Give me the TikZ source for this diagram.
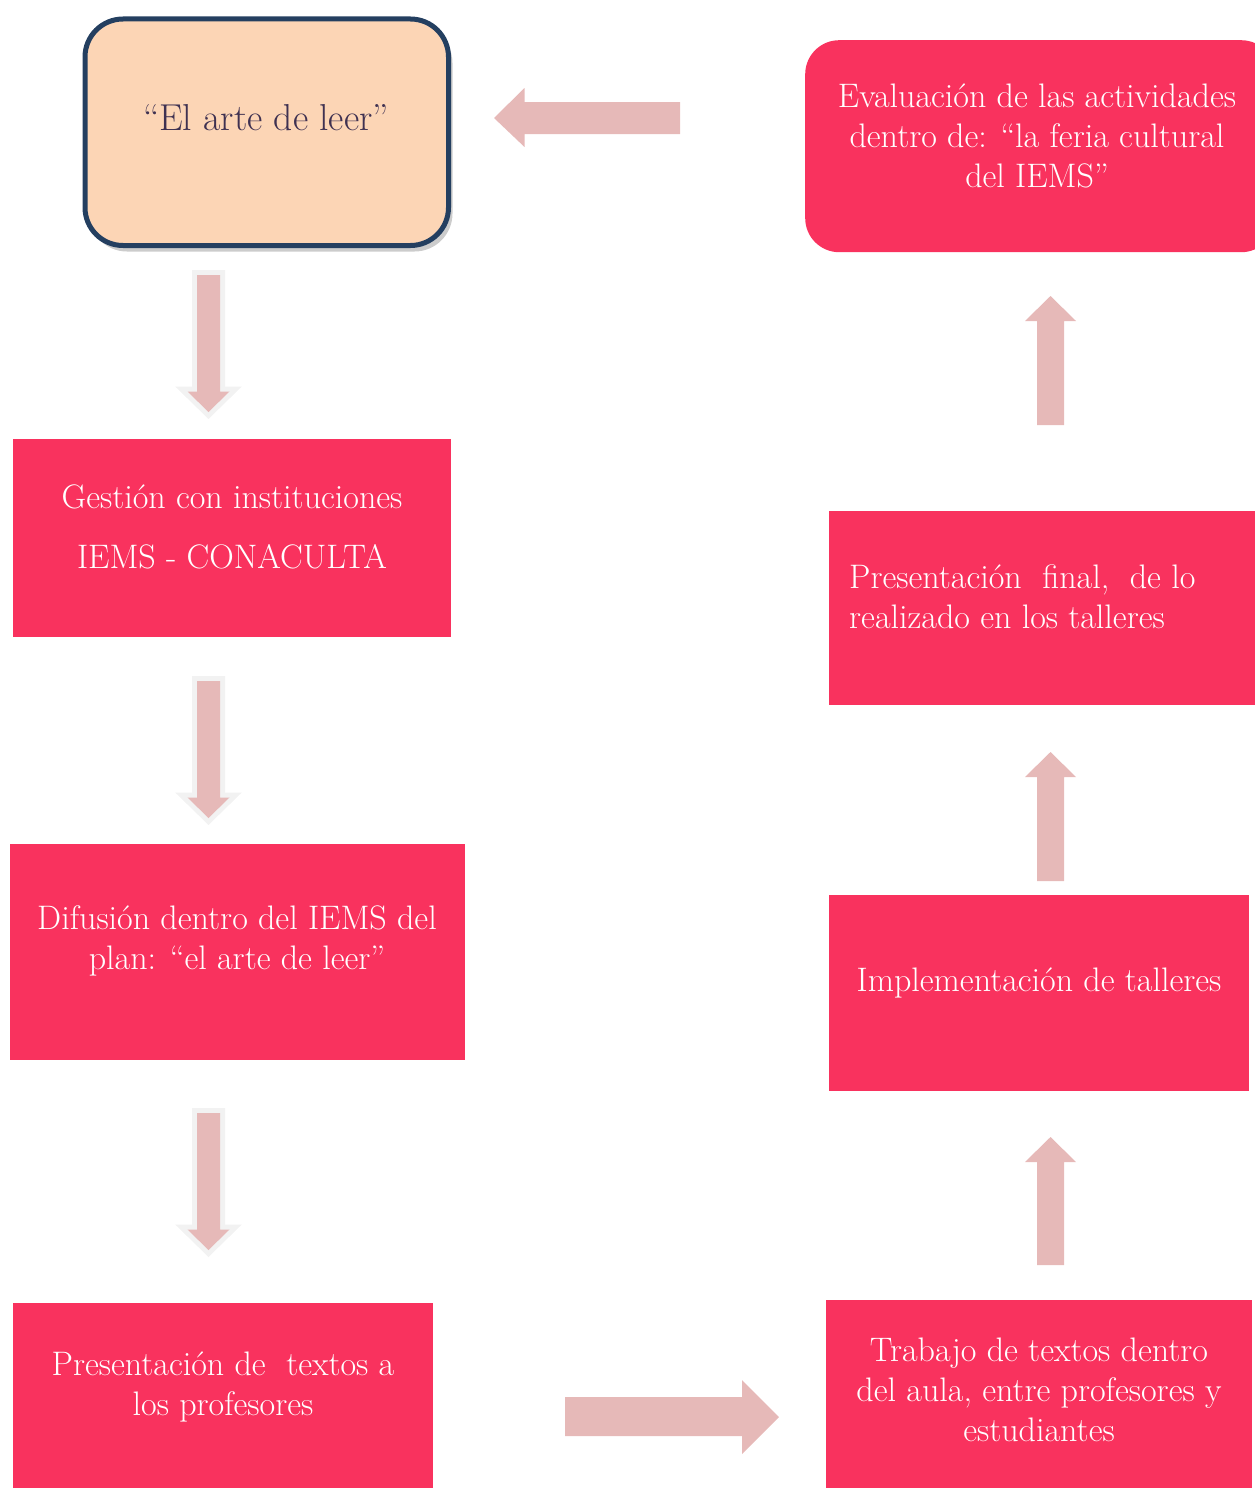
\documentclass[tikz,border=0pt]{standalone}
\usetikzlibrary{shadows}

\definecolor{boxpink}{RGB}{249,50,94}
\definecolor{arrowpink}{RGB}{230,185,184}
\definecolor{arrowline}{RGB}{242,242,242}
\definecolor{peach}{RGB}{252,213,181}
\definecolor{navy}{RGB}{36,63,96}
\definecolor{titletext}{RGB}{63,49,81}

\tikzset{
	pinkbox/.style={fill=boxpink, inner sep=0, anchor=north west},
	titlebox/.style={fill=peach, draw=navy, line width=5pt, rounded corners=38pt, inner sep=0, anchor=north west,
		drop shadow={shadow xshift=4pt, shadow yshift=-6pt, opacity=0.2, fill=black}},
	boxtext/.style={text=white, font=\fontsize{34}{40}\selectfont, align=center, inner sep=0},
	blockarrow/.style={fill=arrowpink},
	downarrow/.style={fill=arrowpink, preaction={draw=arrowline, line width=10pt, line join=miter}}
}

\begin{document}
\begin{tikzpicture}[x=1pt,y=-1pt]
		\useasboundingbox (0,0) rectangle (1255,1488);
		\clip (0,0) rectangle (1255,1488);
		
		% left column
		\node[titlebox, minimum width=363.5pt, minimum height=226.5pt] (arte) at (82.5,16.5) {};
		\node[font=\fontsize{37.5}{42}\selectfont, text=titletext, inner sep=0] (arte-t) at (266,118) {“El arte de leer”};
		
		\node[pinkbox, minimum width=438pt, minimum height=198pt] (gestion) at (13,439) {};
		\node[boxtext] (gestion-t) at (232,527) {Gestión con instituciones\\[20pt]IEMS - CONACULTA};
		
		\node[pinkbox, minimum width=455pt, minimum height=216pt] (difusion) at (10,844) {};
		\node[boxtext] (difusion-t) at (237,941) {Difusión dentro del IEMS del\\plan: “el arte de leer”};
		
		\node[pinkbox, minimum width=420pt, minimum height=200pt] (textos) at (13,1303) {};
		\node[boxtext] (textos-t) at (223,1387) {Presentación de\ \ textos a\\los profesores};
		
		% right column
		\node[pinkbox, rounded corners=34pt, minimum width=470pt, minimum height=212pt] (evaluacion) at (805,40) {};
		\node[boxtext] (evaluacion-t) at (1037,136) {Evaluación de las actividades\\dentro de: “la feria cultural\\del IEMS”};
		
		\node[pinkbox, minimum width=440pt, minimum height=194pt] (final) at (829,511) {};
		\node[boxtext, align=left, anchor=west] (final-t) at (849,597) {Presentación\ \ final,\ \ de lo\\realizado en los talleres};
		
		\node[pinkbox, minimum width=420pt, minimum height=196pt] (talleres) at (829,895) {};
		\node[boxtext] (talleres-t) at (1039,983) {Implementación de talleres};
		
		\node[pinkbox, minimum width=426pt, minimum height=200pt] (trabajo) at (826,1300) {};
		\node[boxtext] (trabajo-t) at (1039,1390) {Trabajo de textos dentro\\del aula, entre profesores y\\estudiantes};
		
		% down arrows
		\path[downarrow] (197,275) -- (220,275) -- (220,391.5) -- (229.5,391.5) -- (208.5,412) -- (187.5,391.5) -- (197,391.5) -- cycle;
		\path[downarrow] (197,681) -- (220,681) -- (220,797.5) -- (229.5,797.5) -- (208.5,818) -- (187.5,797.5) -- (197,797.5) -- cycle;
		\path[downarrow] (197,1113) -- (220,1113) -- (220,1229.5) -- (229.5,1229.5) -- (208.5,1250) -- (187.5,1229.5) -- (197,1229.5) -- cycle;
		
		% up arrows
		\fill[blockarrow] (1037,425) -- (1064,425) -- (1064,321) -- (1076,321) -- (1050.5,296) -- (1025,321) -- (1037,321) -- cycle;
		\fill[blockarrow] (1037,881) -- (1064,881) -- (1064,777) -- (1076,777) -- (1050.5,752) -- (1025,777) -- (1037,777) -- cycle;
		\fill[blockarrow] (1037,1265) -- (1064,1265) -- (1064,1162) -- (1076,1162) -- (1050.5,1137) -- (1025,1162) -- (1037,1162) -- cycle;
		
		% side arrows
		\fill[blockarrow] (680,102) -- (680,134) -- (524.5,134) -- (524.5,147) -- (494,118) -- (524.5,88) -- (524.5,102) -- cycle;
		\fill[blockarrow] (565,1397) -- (742,1397) -- (742,1380) -- (779,1417) -- (742,1454) -- (742,1436) -- (565,1436) -- cycle;
	\end{tikzpicture}
\end{document}
